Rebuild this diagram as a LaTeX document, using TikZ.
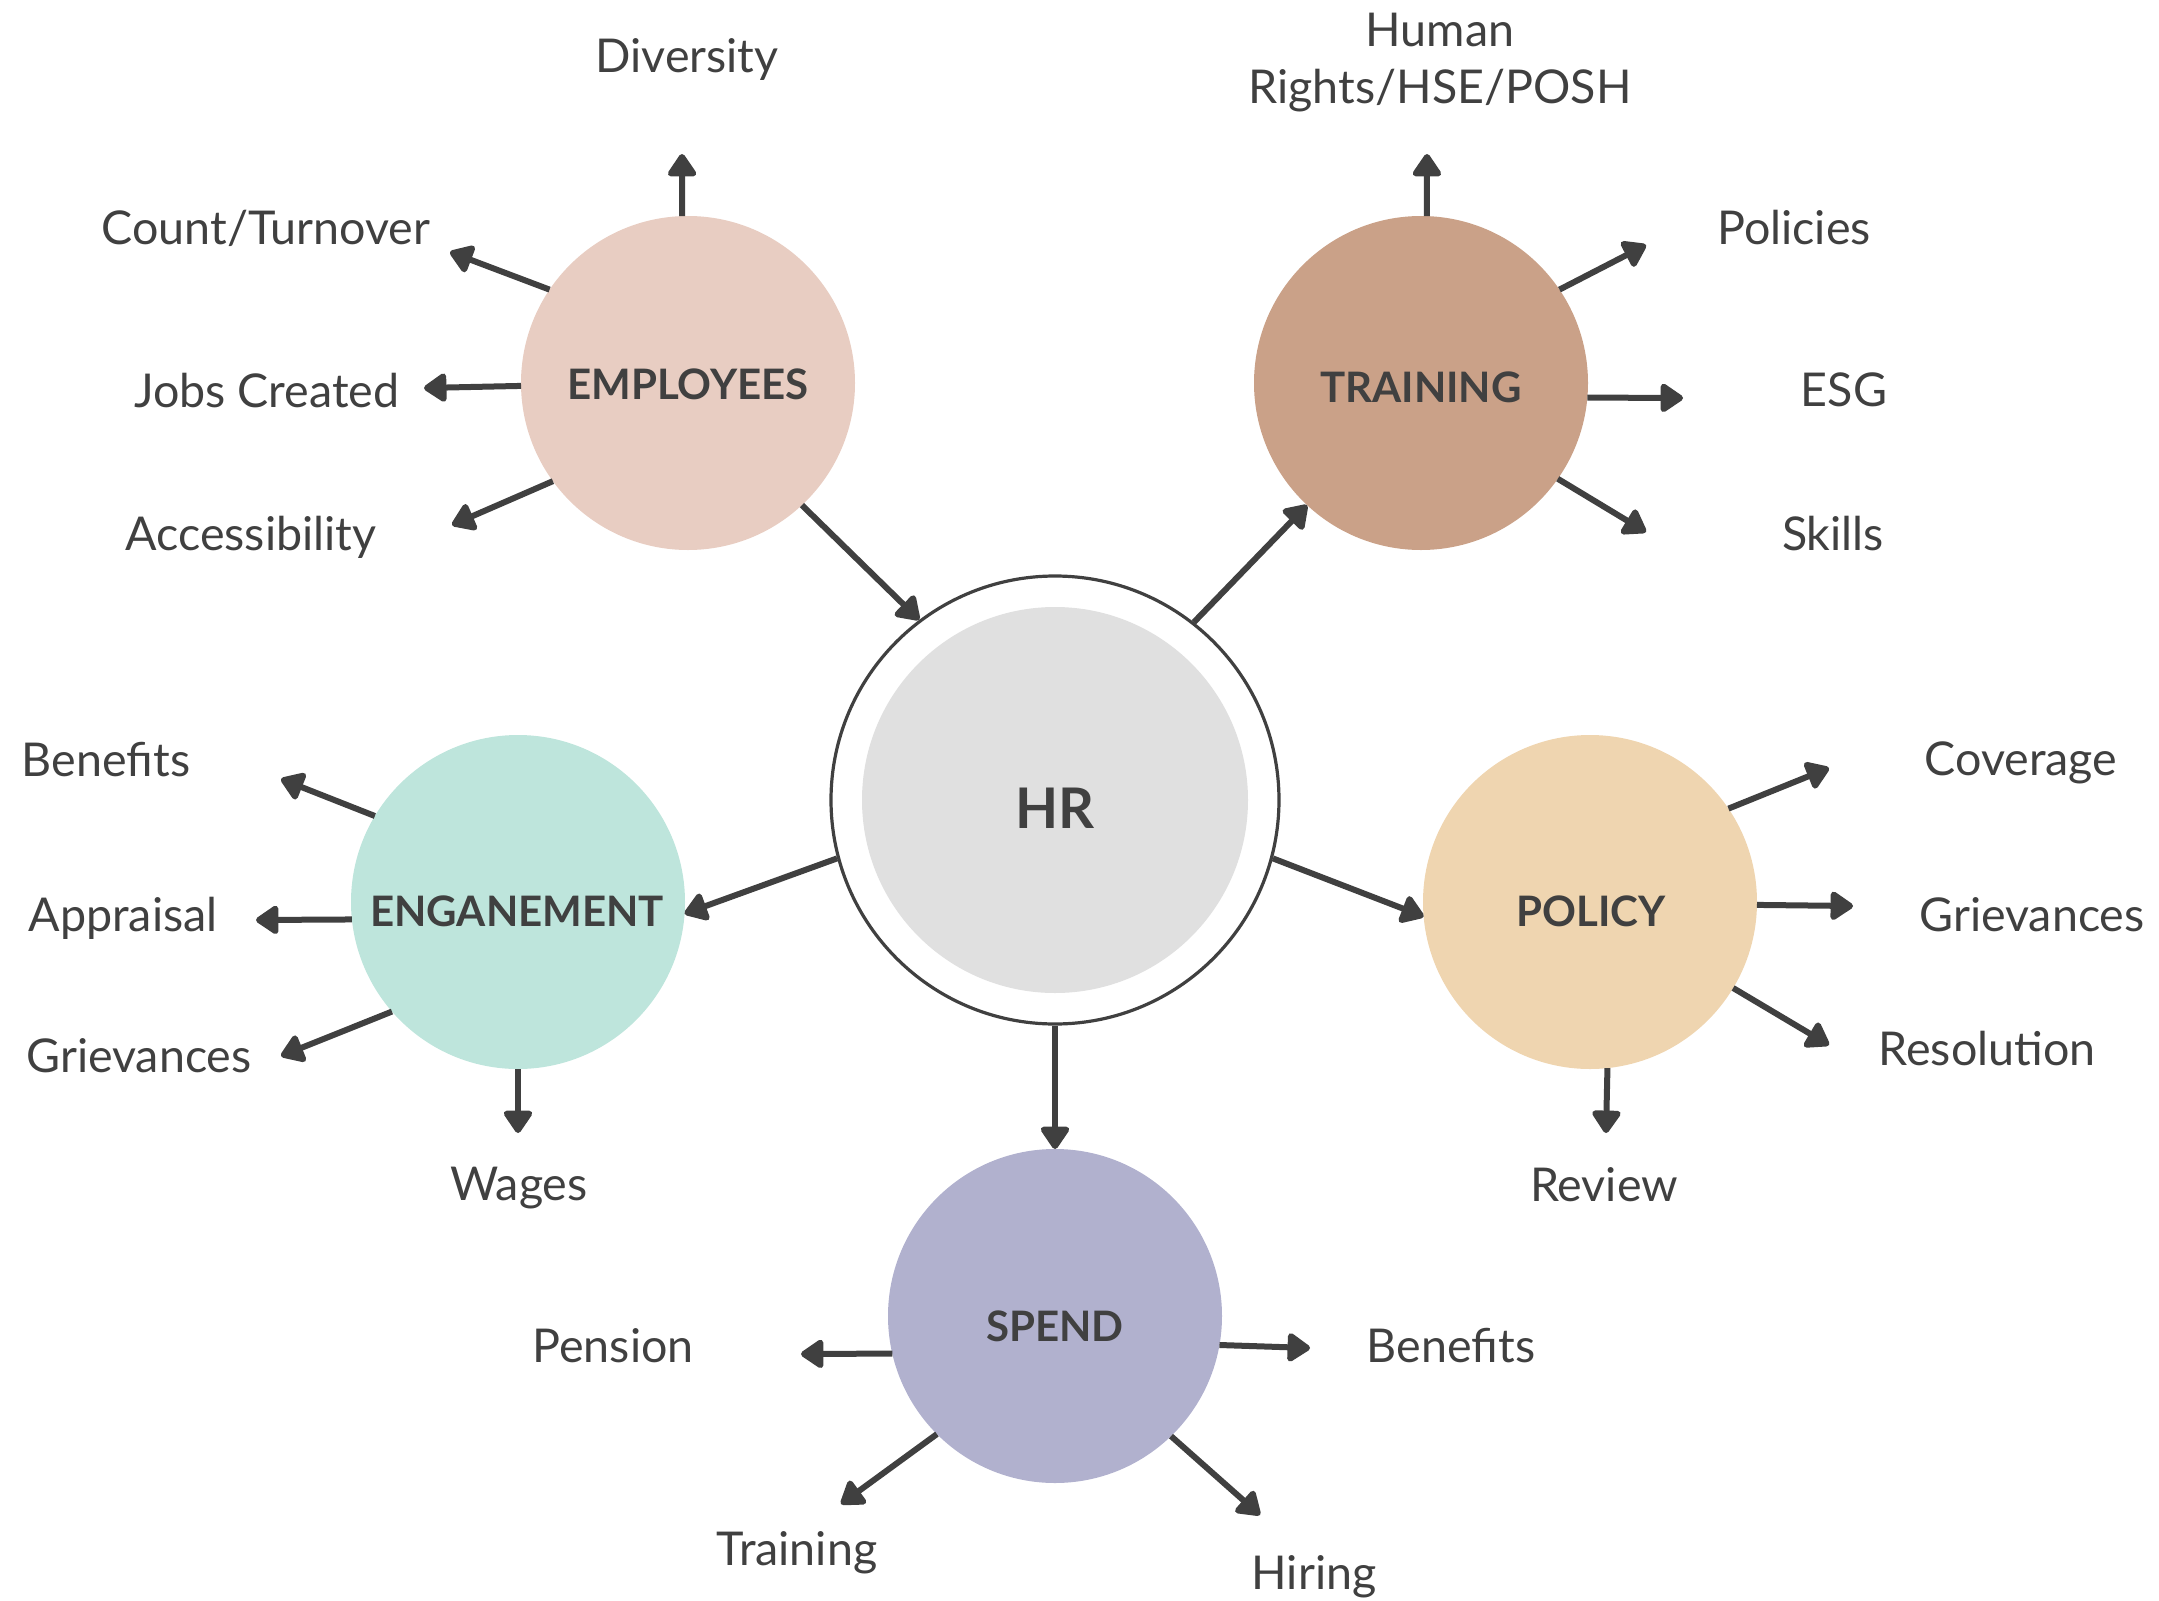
\documentclass[tikz,border=0pt]{standalone}
\usepackage{fontspec}
\setmainfont{Lato}
\usetikzlibrary{arrows.meta}
\definecolor{ink}{HTML}{404040}
\definecolor{empcol}{HTML}{E8CDC2}
\definecolor{traincol}{HTML}{CAA188}
\definecolor{engcol}{HTML}{BEE5DC}
\definecolor{polcol}{HTML}{EFD5B0}
\definecolor{spendcol}{HTML}{B1B1CE}
\definecolor{hrgray}{HTML}{E0E0E0}

\begin{document}
\begin{tikzpicture}[x=0.5pt,y=-0.5pt,
  hub/.style={circle,minimum size=167pt,inner sep=0pt,outer sep=0pt},
  hubtext/.style={inner sep=0pt,text=ink,font=\fontsize{21}{24}\selectfont\bfseries},
  item/.style={text=ink,font=\fontsize{23.3}{28.5}\selectfont,align=center,inner sep=0pt,text depth=0pt},
  arr/.style={draw=ink,line width=3pt,-{Triangle[length=12.5pt,width=16pt,round]}}]
\useasboundingbox (0,0) rectangle (2159,1601);
\node[circle,draw=ink,line width=1.6pt,fill=white,minimum size=224pt,inner sep=0pt] (hr) at (1055,800) {};
\node[circle,fill=hrgray,minimum size=193pt,inner sep=0pt] (hrin) at (1055,800) {};
\node[hub,fill=empcol] (emp) at (688,383) {};
\node[hub,fill=traincol] (train) at (1421,383) {};
\node[hub,fill=engcol] (eng) at (518,902) {};
\node[hub,fill=polcol] (pol) at (1590,902) {};
\node[hub,fill=spendcol] (spend) at (1055,1316) {};
\node[hubtext,font=\fontsize{28}{32}\selectfont\bfseries] (hrlbl) at (1055,808) {HR};
\node[hubtext] (emplbl) at (688,384) {EMPLOYEES};
\node[hubtext] (trainlbl) at (1421,387) {TRAINING};
\node[hubtext] (englbl) at (517,911) {ENGANEMENT};
\node[hubtext] (pollbl) at (1591,911) {POLICY};
\node[hubtext] (spendlbl) at (1055,1326) {SPEND};
\node[item] (div) at (687,55) {Diversity};
\node[item] (cnt) at (266,227) {Count/Turnover};
\node[item] (jobs) at (267,390) {Jobs Created};
\node[item] (acc) at (251,533) {Accessibility};
\node[item] (hum) at (1440,58) {Human\\Rights/HSE/POSH};
\node[item] (pols) at (1794,227) {Policies};
\node[item] (esg) at (1844,390) {ESG};
\node[item] (skl) at (1833,533) {Skills};
\node[item] (eben) at (106,759) {Benefits};
\node[item] (appr) at (123,914) {Appraisal};
\node[item] (egri) at (139,1055) {Grievances};
\node[item] (wag) at (519,1184) {Wages};
\node[item] (cov) at (2021,759) {Coverage};
\node[item] (pgri) at (2032,914) {Grievances};
\node[item] (res) at (1987,1048) {Resolution};
\node[item] (rev) at (1604,1184) {Review};
\node[item] (pen) at (613,1345) {Pension};
\node[item] (sben) at (1451,1345) {Benefits};
\node[item] (strn) at (797,1548) {Training};
\node[item] (hir) at (1314,1572) {Hiring};
\coordinate (divtip) at (682,154);
\coordinate (cnttip) at (450,252);
\coordinate (jobstip) at (424,388);
\coordinate (acctip) at (452,525);
\coordinate (humtip) at (1427,154);
\coordinate (polstip) at (1646,245);
\coordinate (esgtip) at (1683,398);
\coordinate (skltip) at (1646,532);
\coordinate (ebentip) at (281,779);
\coordinate (apprtip) at (256,920);
\coordinate (egritip) at (281,1056);
\coordinate (wagtip) at (518,1133);
\coordinate (covtip) at (1829,768);
\coordinate (pgritip) at (1853,906);
\coordinate (restip) at (1829,1045);
\coordinate (revtip) at (1606,1133);
\coordinate (pentip) at (801,1354);
\coordinate (sbentip) at (1310,1348);
\coordinate (strntip) at (841,1504);
\coordinate (hirtip) at (1260,1515);
\draw[arr] (emp.-47) -- (hr.127);
\draw[arr] (hr.52.6) -- (train.227);
\draw[arr] (hr.195) -- (eng.-4);
\draw[arr] (hr.-15.3) -- (pol.185);
\draw[arr] (hr.south) -- (spend.north);
\draw[arr] (emp.92) -- (divtip);
\draw[arr] (emp.146.9) -- (cnttip);
\draw[arr] (emp.181.4) -- (jobstip);
\draw[arr] (emp.216.9) -- (acctip);
\draw[arr] (train.88) -- (humtip);
\draw[arr] (train.34.3) -- (polstip);
\draw[arr] (train.-5.1) -- (esgtip);
\draw[arr] (train.-35.5) -- (skltip);
\draw[arr] (eng.149.3) -- (ebentip);
\draw[arr] (eng.186.2) -- (apprtip);
\draw[arr] (eng.221.2) -- (egritip);
\draw[arr] (eng.270) -- (wagtip);
\draw[arr] (pol.34.6) -- (covtip);
\draw[arr] (pol.-1.4) -- (pgritip);
\draw[arr] (pol.-31.7) -- (restip);
\draw[arr] (pol.-84.6) -- (revtip);
\draw[arr] (spend.193) -- (pentip);
\draw[arr] (spend.-10.9) -- (sbentip);
\draw[arr] (spend.225.2) -- (strntip);
\draw[arr] (spend.-46.4) -- (hirtip);
\end{tikzpicture}
\end{document}
